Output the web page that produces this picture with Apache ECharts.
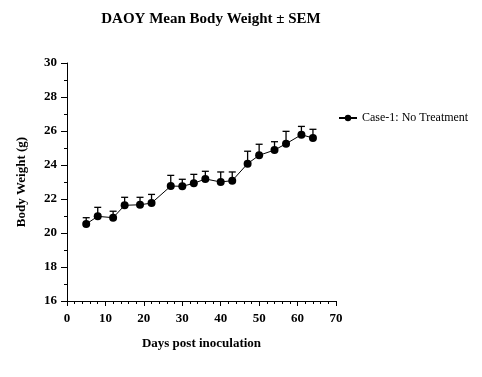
<!DOCTYPE html>
<html>
<head>
<meta charset="utf-8">
<script src="https://cdn.jsdelivr.net/npm/echarts@6/dist/echarts.min.js"></script>
<style>
  html, body { margin: 0; padding: 0; background: #fff; }
  #chart { width: 482px; height: 377px; }
</style>
</head>
<body>
<div id="chart"></div>
<script>
// days post inoculation, mean body weight (g), SEM
var days = [5, 8, 12, 15, 19, 22, 27, 30, 33, 36, 40, 43, 47, 50, 54, 57, 61, 64];
var meanWeight = [20.53, 20.98, 20.90, 21.63, 21.66, 21.76, 22.76, 22.75, 22.92, 23.18,
    23.00, 23.08, 24.08, 24.57, 24.88, 25.25, 25.78, 25.59];
var sem = [0.37, 0.53, 0.38, 0.47, 0.44, 0.51, 0.63, 0.41, 0.53, 0.45,
    0.59, 0.51, 0.73, 0.65, 0.49, 0.73, 0.49, 0.51];
var seriesName = 'Case-1: No Treatment';

var serif = '"Liberation Serif", "Times New Roman", serif';

var chart = echarts.init(document.getElementById('chart'));

var option = {
    animation: false,
    title: {
        text: 'DAOY Mean Body Weight ± SEM',
        left: 206,
        textAlign: 'center',
        top: 7,
        textStyle: { fontFamily: serif, fontSize: 15, fontWeight: 'bold', color: '#000' }
    },
    legend: {
        left: 338,
        top: 112,
        padding: 0,
        itemWidth: 18,
        itemHeight: 8,
        data: [seriesName],
        textStyle: { fontFamily: serif, fontSize: 12, color: '#000' }
    },
    grid: { left: 67, right: 146, top: 63, bottom: 76 },
    xAxis: {
        type: 'value',
        min: 0,
        max: 70,
        interval: 10,
        name: 'Days post inoculation',
        nameLocation: 'middle',
        nameGap: 36,
        nameTextStyle: { fontFamily: serif, fontSize: 13, fontWeight: 'bold', color: '#000' },
        axisLine: { lineStyle: { color: '#000', width: 1 } },
        axisTick: { length: 5, lineStyle: { color: '#000' } },
        minorTick: { show: true, splitNumber: 5, length: 3, lineStyle: { color: '#000' } },
        axisLabel: { fontFamily: serif, fontSize: 13, fontWeight: 'bold', color: '#000', margin: 11 },
        splitLine: { show: false }
    },
    yAxis: {
        type: 'value',
        min: 16,
        max: 30,
        interval: 2,
        name: 'Body Weight (g)',
        nameLocation: 'middle',
        nameGap: 39,
        nameTextStyle: { fontFamily: serif, fontSize: 13, fontWeight: 'bold', color: '#000' },
        axisLine: { show: true, lineStyle: { color: '#000', width: 1 } },
        axisTick: { show: true, length: 6, lineStyle: { color: '#000' } },
        minorTick: { show: true, splitNumber: 2, length: 3, lineStyle: { color: '#000' } },
        axisLabel: { fontFamily: serif, fontSize: 13, fontWeight: 'bold', color: '#000', margin: 10 },
        splitLine: { show: false }
    },
    series: [
        {
            type: 'custom',
            name: 'SEM',
            silent: true,
            z: 1,
            data: days.map(function (d, i) { return [d, meanWeight[i], meanWeight[i] + sem[i]]; }),
            renderItem: function (params, api) {
                var base = api.coord([api.value(0), api.value(1)]);
                var top = api.coord([api.value(0), api.value(2)]);
                var half = 3.5;
                var style = { stroke: '#000', lineWidth: 1.3 };
                return {
                    type: 'group',
                    children: [
                        { type: 'line', shape: { x1: base[0], y1: base[1], x2: top[0], y2: top[1] }, style: style },
                        { type: 'line', shape: { x1: top[0] - half, y1: top[1], x2: top[0] + half, y2: top[1] }, style: style }
                    ]
                };
            }
        },
        {
            type: 'line',
            name: seriesName,
            z: 2,
            data: days.map(function (d, i) { return [d, meanWeight[i]]; }),
            symbol: 'circle',
            symbolSize: 8,
            itemStyle: { color: '#000' },
            lineStyle: { color: '#000', width: 1 }
        }
    ]
};

chart.setOption(option);
</script>
</body>
</html>
